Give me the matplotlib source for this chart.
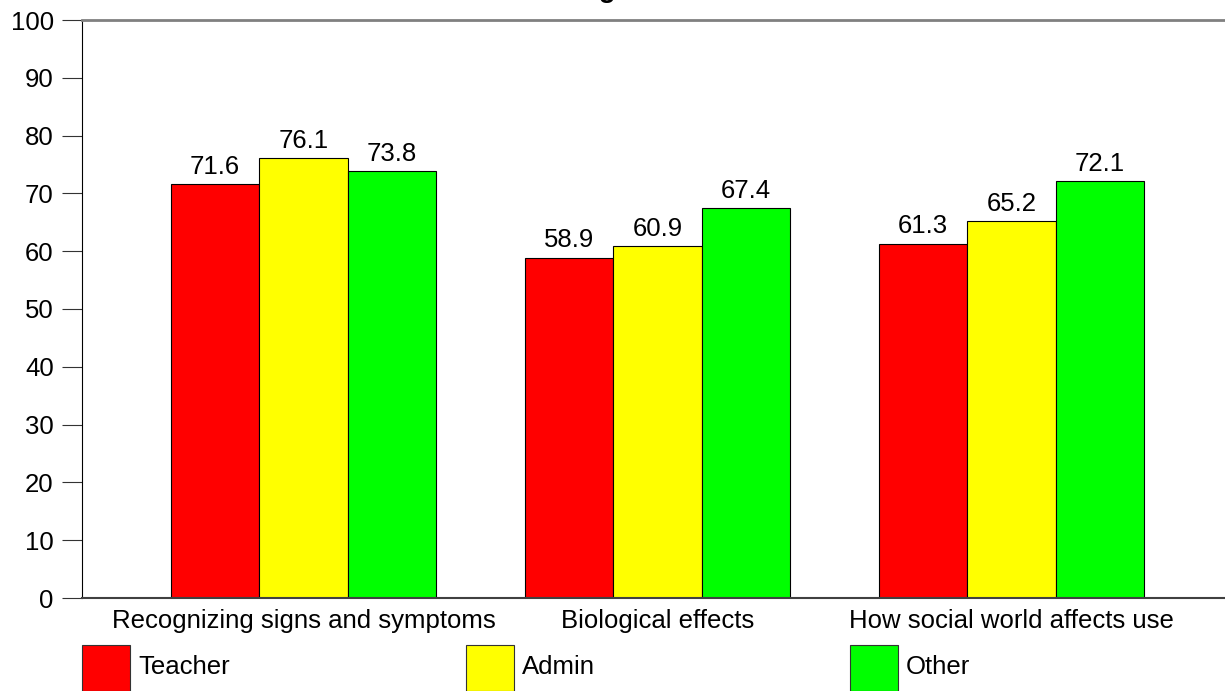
import matplotlib
matplotlib.use('Agg')
import matplotlib.pyplot as plt
import numpy as np
from matplotlib.patches import Rectangle

categories = ['Recognizing signs and symptoms', 'Biological effects', 'How social world affects use']
series_names = ['Teacher', 'Admin', 'Other']
teacher = [71.6, 58.9, 61.3]
admin = [76.1, 60.9, 65.2]
other = [73.8, 67.4, 72.1]
colors = ['#ff0000', '#ffff00', '#00ff00']
yticks = list(range(0, 101, 10))

plt.rcParams['font.family'] = ['Liberation Sans', 'DejaVu Sans']
fs = 18.5

W, H = 1225, 691
fig = plt.figure(figsize=(W / 100, H / 100), dpi=100)
ax = fig.add_axes([82 / W, (H - 598) / H, (W - 82) / W, (598 - 20) / H])

x = np.arange(len(categories))
bw = 0.25
for i, (vals, col) in enumerate(zip([teacher, admin, other], colors)):
    bars = ax.bar(x + (i - 1) * bw, vals, bw, color=col, edgecolor='black', linewidth=0.8)
    for b, v in zip(bars, vals):
        ax.text(b.get_x() + b.get_width() / 2, v + 0.9, f'{v:.1f}', ha='center', va='bottom', fontsize=fs)

ax.set_xlim(-0.626, 2.603)
ax.set_ylim(0, 100)
ax.set_yticks(yticks)
ax.set_xticks(x)
ax.set_xticklabels(categories)
ax.tick_params(axis='y', length=14.4, width=0.8, labelsize=fs, pad=6, color='#333333')
ax.tick_params(axis='x', length=0, labelsize=fs, pad=8)
ax.spines['right'].set_visible(False)
ax.spines['top'].set_color('#808080')
ax.spines['top'].set_linewidth(2)
ax.spines['bottom'].set_color('#404040')
ax.spines['bottom'].set_linewidth(1.5)
ax.spines['left'].set_linewidth(0.8)

# title, cut off at the top edge like the original
fig.text(0.455, 1.0 + 3 / H, 'Knowledge', ha='center', va='baseline', fontsize=20, fontweight='bold')

# legend along the bottom
leg_x = [82, 466, 850]
for lx, name, col in zip(leg_x, series_names, colors):
    fig.add_artist(Rectangle((lx / W, 0), 48 / W, 46 / H, transform=fig.transFigure,
                             facecolor=col, edgecolor='#333333', linewidth=0.8))
    fig.text((lx + 56) / W, (H - 667) / H, name, ha='left', va='center', fontsize=fs)

fig.savefig('out.png', dpi=100)
